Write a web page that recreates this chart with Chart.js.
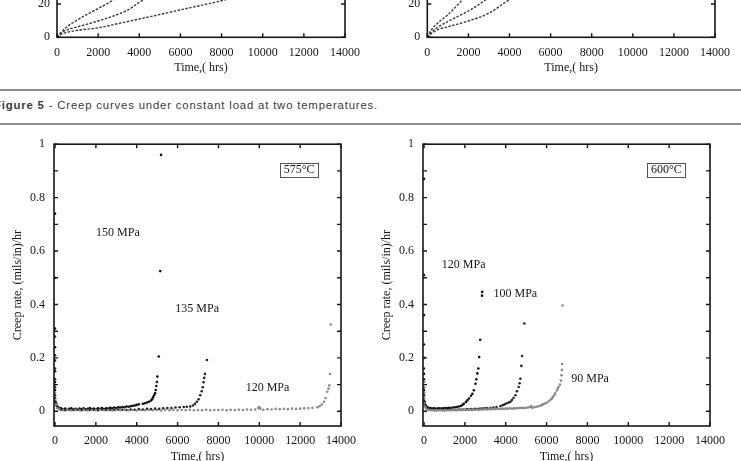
<!DOCTYPE html>
<html><head><meta charset="utf-8">
<script src="https://cdn.jsdelivr.net/npm/chart.js@4.4.1/dist/chart.umd.min.js"></script>
<style>
html,body{margin:0;padding:0;background:#fff;width:741px;height:461px;overflow:hidden;position:relative}
canvas{position:absolute}
.rule{position:absolute;left:0;width:741px;height:2px;background:#8e8e8e}
#cap{position:absolute;left:-6px;top:99px;font:11px 'Liberation Sans',Arial,sans-serif;color:#3a3a3a;white-space:nowrap;transform-origin:0 0;letter-spacing:0.8px;display:inline-block}
</style></head><body>
<canvas id="cTL" width="370" height="193" style="left:0;top:-110px"></canvas>
<canvas id="cTR" width="371" height="193" style="left:370px;top:-110px"></canvas>
<div class="rule" style="top:89px"></div>
<span id="cap"><b>Figure 5</b> - Creep curves under constant load at two temperatures.</span>
<div class="rule" style="top:123px"></div>
<canvas id="cBL" width="370" height="344" style="left:0;top:128px"></canvas>
<canvas id="cBR" width="371" height="344" style="left:370px;top:128px"></canvas>
<script>
// ---- tick labels ----
const xTicks = [0,2000,4000,6000,8000,10000,12000,14000];
const rateTicks = [0,0.2,0.4,0.6,0.8,1];
const rateMinor = [0.1,0.3,0.5,0.7,0.9];
const strainTicks = [0,20,40,60,80];

// ---- top row: creep strain curves [time hrs, strain] ----
const strain575_150 = [[0,0],[200,3],[500,6.5],[1000,10.5],[1500,14],[2000,17.3],[2400,20],[3000,24.5],[4000,32],[4500,38],[5000,50]];
const strain575_135 = [[0,0],[200,2.5],[500,4.5],[1000,6.3],[2000,9.8],[3000,14],[3500,16.8],[4000,21],[5000,28],[6000,36],[7000,48],[7400,60]];
const strain575_120 = [[0,0],[200,1.8],[500,3],[1000,4.2],[2000,5.7],[3000,8.3],[4000,11],[5000,13.7],[6000,16.5],[7000,19.2],[8000,22],[10000,29],[12000,38],[13000,46],[13400,55]];
const strain600_120 = [[0,0],[200,4.5],[500,8.5],[1000,13.5],[1500,19.8],[1800,24],[2500,35],[2800,48]];
const strain600_100 = [[0,0],[200,3],[500,6],[1000,9.5],[2000,15.8],[2700,21.3],[3500,29],[4500,40],[4900,50]];
const strain600_90  = [[0,0],[200,2.2],[500,4.5],[1000,6.3],[2000,9.8],[3000,14.5],[3850,21.5],[5000,30],[6000,40],[6700,50]];

// ---- bottom row: creep rate [time hrs, (mils/in)/hr] ----
const rate575_150 = [[0,0.74],[0,0.50],[0,0.31],[0,0.24],[0,0.19],[0,0.15],[0,0.11],[0,0.08],[0,0.05],[30,0.035],[60,0.025],[100,0.018],[150,0.014],[200,0.012],[250,0.009],
[300,0.011],[400,0.007],[500,0.010],[600,0.006],[700,0.009],[800,0.011],[900,0.007],[1000,0.009],[1100,0.006],[1200,0.010],[1300,0.008],[1400,0.011],[1500,0.007],[1600,0.009],[1700,0.012],[1800,0.008],[1900,0.010],[2000,0.007],[2100,0.011],[2200,0.009],[2300,0.012],[2400,0.008],[2500,0.011],[2600,0.010],[2700,0.013],[2800,0.011],[2900,0.014],[3000,0.012],[3100,0.015],[3200,0.014],[3300,0.016],[3400,0.015],[3500,0.018],[3600,0.017],[3700,0.019],[3800,0.021],[3900,0.022],[4000,0.024],[4100,0.026],
[4300,0.028],[4400,0.030],[4500,0.033],[4600,0.036],[4700,0.040],[4750,0.045],[4800,0.052],[4850,0.060],[4900,0.068],[4930,0.080],[4960,0.095],[4990,0.110],[5010,0.130],[5080,0.205],[5150,0.525],[5190,0.960]];
const rate575_135 = [[0,0.28],[0,0.21],[0,0.16],[0,0.12],[0,0.09],[0,0.06],[0,0.04],[50,0.03],[100,0.02],[150,0.015],[200,0.011],
[300,0.006],[500,0.004],[700,0.007],[900,0.005],[1100,0.006],[1300,0.004],[1500,0.007],[1700,0.005],[1900,0.006],[2100,0.004],[2300,0.007],[2500,0.005],[2700,0.006],[2900,0.005],[3100,0.007],[3300,0.006],[3500,0.005],[3700,0.007],[3900,0.006],[4100,0.008],[4300,0.007],[4500,0.009],[4700,0.008],[4900,0.010],[5100,0.009],[5300,0.011],[5500,0.012],[5700,0.012],[5900,0.014],[6100,0.015],[6300,0.016],[6450,0.017],
[6617,0.018],[6750,0.022],[6850,0.028],[6946,0.036],[7030,0.045],[7108,0.060],[7180,0.075],[7230,0.090],[7270,0.109],[7300,0.125],[7340,0.140],[7437,0.192]];
const rate575_120 = [[0,0.10],[0,0.07],[0,0.045],[50,0.025],[100,0.012],[200,0.008],
[400,0.004],[600,0.006],[800,0.003],[1000,0.005],[1200,0.004],[1400,0.006],[1600,0.003],[1800,0.005],[2000,0.004],[2200,0.006],[2400,0.004],[2600,0.005],[2800,0.003],[3000,0.005],[3200,0.004],[3400,0.006],[3600,0.004],[3800,0.005],[4000,0.003],[4200,0.005],[4400,0.004],[4600,0.006],[4800,0.004],[5000,0.005],[5200,0.003],[5400,0.005],[5600,0.004],[5800,0.006],[6000,0.004],[6200,0.005],[6400,0.004],[6600,0.006],[6800,0.004],[7000,0.005],[7200,0.004],[7400,0.006],[7600,0.004],[7800,0.005],[8000,0.005],[8200,0.006],[8400,0.004],[8600,0.006],[8800,0.005],[9000,0.006],[9200,0.005],[9400,0.007],[9600,0.006],[9800,0.007],[9950,0.012],[10000,0.016],[10050,0.010],[10200,0.006],[10400,0.008],[10600,0.007],[10800,0.009],[11000,0.008],[11200,0.009],[11400,0.008],[11600,0.010],[11800,0.009],[12000,0.010],[12200,0.011],[12400,0.012],[12600,0.013],
[12840,0.015],[12950,0.019],[13050,0.025],[13165,0.036],[13250,0.050],[13330,0.073],[13390,0.085],[13430,0.097],[13460,0.140],[13500,0.325]];
const rate600_120 = [[0,0.87],[0,0.51],[0,0.36],[0,0.25],[0,0.14],[0,0.11],[0,0.09],[0,0.07],[0,0.05],[30,0.035],[60,0.025],[100,0.02],[150,0.016],[200,0.013],[250,0.011],[300,0.012],[350,0.009],[400,0.010],[450,0.008],[500,0.011],[550,0.009],[600,0.008],[650,0.010],[700,0.009],[750,0.011],[800,0.008],[850,0.010],[900,0.009],[950,0.011],[1000,0.010],[1050,0.012],[1100,0.010],[1150,0.011],[1200,0.013],[1250,0.011],[1300,0.012],[1400,0.014],[1500,0.015],[1600,0.016],[1700,0.018],[1800,0.020],
[1880,0.024],[1950,0.028],[2050,0.035],[2120,0.041],[2200,0.048],[2300,0.058],[2370,0.066],[2440,0.079],[2520,0.103],[2560,0.120],[2610,0.142],[2660,0.160],[2700,0.203],[2750,0.268],[2840,0.433],[2850,0.447]];
const rate600_100 = [[0,0.20],[0,0.16],[0,0.12],[0,0.08],[0,0.06],[0,0.04],[50,0.025],[100,0.015],[200,0.010],[300,0.007],[400,0.005],[500,0.007],[600,0.004],[700,0.006],[800,0.005],[900,0.007],[1000,0.004],[1100,0.006],[1200,0.005],[1300,0.007],[1400,0.005],[1500,0.006],[1600,0.005],[1700,0.007],[1800,0.006],[1900,0.007],[2000,0.006],[2100,0.008],[2200,0.007],[2300,0.008],[2400,0.007],[2500,0.009],[2600,0.008],[2700,0.009],[2800,0.010],[2900,0.010],[3000,0.011],[3100,0.011],
[3254,0.012],[3400,0.014],[3550,0.016],[3741,0.020],[3850,0.023],[3950,0.026],[4050,0.030],[4150,0.033],[4229,0.036],[4300,0.042],[4380,0.050],[4473,0.060],[4550,0.075],[4636,0.091],[4680,0.105],[4717,0.122],[4766,0.170],[4800,0.207],[4912,0.329]];
const rate600_90 = [[0,0.11],[0,0.09],[0,0.07],[0,0.05],[0,0.03],[50,0.018],[100,0.010],[200,0.006],[300,0.004],[400,0.005],[500,0.003],[600,0.005],[700,0.004],[800,0.005],[900,0.003],[1000,0.005],[1100,0.004],[1200,0.005],[1300,0.004],[1400,0.006],[1500,0.004],[1600,0.005],[1700,0.005],[1800,0.006],[1900,0.005],[2000,0.006],[2100,0.005],[2200,0.006],[2300,0.006],[2400,0.007],[2500,0.006],[2600,0.007],[2700,0.006],[2800,0.007],[2900,0.007],[3000,0.008],[3100,0.007],[3200,0.008],[3300,0.008],[3400,0.009],[3500,0.008],[3600,0.009],[3700,0.009],[3800,0.010],[3900,0.009],[4000,0.010],[4100,0.010],[4200,0.011],[4300,0.010],[4400,0.011],[4500,0.011],[4600,0.012],[4700,0.012],[4800,0.013],[4900,0.012],[5000,0.013],[5100,0.014],[5200,0.016],[5250,0.020],[5300,0.013],[5400,0.015],[5500,0.017],[5600,0.019],[5700,0.021],
[5776,0.024],[5850,0.027],[5920,0.029],[6000,0.032],[6090,0.037],[6180,0.042],[6250,0.047],[6300,0.053],[6370,0.060],[6424,0.067],[6500,0.078],[6545,0.085],[6585,0.091],[6650,0.100],[6703,0.115],[6730,0.135],[6751,0.155],[6760,0.177],[6780,0.396]];

const SERIF = '"Liberation Serif","Times New Roman",serif';
const INK = '#161616';

// inward ticks on all four sides + box frame, drawn from the chart's scales
const framePlugin = {
  id: 'frame',
  afterDatasetsDraw(chart, args, o) {
    const {ctx, chartArea: a, scales: {x, y}} = chart;
    const L = 4;
    ctx.save();
    ctx.strokeStyle = INK; ctx.lineWidth = 1.4;
    ctx.beginPath();
    x.ticks.forEach(t => {
      const px = x.getPixelForValue(t.value);
      ctx.moveTo(px, a.bottom); ctx.lineTo(px, a.bottom - L);
      ctx.moveTo(px, a.top); ctx.lineTo(px, a.top + L);
    });
    const yv = y.ticks.map(t => t.value).concat(o.minor || []);
    yv.forEach(v => {
      const py = y.getPixelForValue(v);
      ctx.moveTo(a.left, py); ctx.lineTo(a.left + L, py);
      ctx.moveTo(a.right, py); ctx.lineTo(a.right - L, py);
    });
    ctx.stroke();
    ctx.lineWidth = 1.6;
    ctx.strokeRect(a.left, a.top, a.right - a.left, a.bottom - a.top);
    ctx.restore();
  }
};
const notePlugin = {
  id: 'notes',
  afterDatasetsDraw(chart, args, o) {
    const {ctx, scales: {x, y}} = chart;
    ctx.save();
    ctx.font = '12px ' + SERIF; ctx.fillStyle = INK;
    ctx.textAlign = 'center'; ctx.textBaseline = 'middle';
    (o.items || []).forEach(n => {
      const px = x.getPixelForValue(n.x), py = y.getPixelForValue(n.y);
      ctx.fillText(n.text, px, py);
      if (n.box) {
        const w = ctx.measureText(n.text).width + 7;
        ctx.strokeStyle = '#555'; ctx.lineWidth = 1;
        ctx.strokeRect(Math.round(px - w / 2) + 0.5, Math.round(py - 7) + 0.5, Math.round(w), 14);
      }
    });
    ctx.restore();
  }
};

const pts = arr => arr.map(p => ({x: p[0], y: p[1]}));

function axisFont() { return {family: SERIF, size: 12}; }

function rateChart(id, g, sets, notes) {
  return new Chart(document.getElementById(id), {
    type: 'scatter',
    data: {datasets: sets.map(s => ({data: pts(s.d), pointRadius: 1.3, pointBorderWidth: 0, pointBackgroundColor: s.c, showLine: false}))},
    options: {
      responsive: false, animation: false, events: [],
      layout: {padding: {left: 0, top: g.top, right: g.right, bottom: 0}},
      plugins: {legend: {display: false}, tooltip: {enabled: false}, frame: {minor: rateMinor}, notes: {items: notes}},
      scales: {
        x: {type: 'linear', min: -50, max: 14000,
          afterBuildTicks: s => { s.ticks = xTicks.map(v => ({value: v})); },
          afterFit: s => { s.height = g.xh; },
          grid: {display: false, drawTicks: false}, border: {display: false},
          ticks: {padding: 8, color: INK, font: axisFont(), autoSkip: false, maxRotation: 0, callback: v => String(v)},
          title: {display: true, text: 'Time,( hrs)', color: INK, font: axisFont(), padding: {top: 0, bottom: 7.8}}},
        y: {type: 'linear', min: -0.055, max: 1,
          afterBuildTicks: s => { s.ticks = rateTicks.map(v => ({value: v})); },
          afterFit: s => { s.width = g.yw; },
          grid: {display: false, drawTicks: false}, border: {display: false},
          ticks: {padding: 9, color: INK, font: axisFont(), callback: v => String(v)},
          title: {display: true, text: 'Creep rate, (mils/in)/hr', color: INK, font: axisFont(), padding: {top: g.tt, bottom: 0}}}
      }
    },
    plugins: [framePlugin, notePlugin]
  });
}

function strainChart(id, g, sets) {
  return new Chart(document.getElementById(id), {
    type: 'scatter',
    data: {datasets: sets.map(s => ({data: pts(s), showLine: true, pointRadius: 0, borderColor: '#3a3a3a', borderWidth: 1.4, borderDash: [2.5, 1.5], cubicInterpolationMode: 'monotone', fill: false}))},
    options: {
      responsive: false, animation: false, events: [],
      layout: {padding: {left: 0, top: g.top, right: g.right, bottom: 0}},
      plugins: {legend: {display: false}, tooltip: {enabled: false}, frame: {minor: []}},
      scales: {
        x: {type: 'linear', min: 0, max: 14000,
          afterBuildTicks: s => { s.ticks = xTicks.map(v => ({value: v})); },
          afterFit: s => { s.height = g.xh; },
          grid: {display: false, drawTicks: false}, border: {display: false},
          ticks: {padding: 8, color: INK, font: axisFont(), autoSkip: false, maxRotation: 0, callback: v => String(v)},
          title: {display: true, text: 'Time,( hrs)', color: INK, font: axisFont(), padding: {top: 0, bottom: 7.8}}},
        y: {type: 'linear', min: 0, max: 80,
          afterBuildTicks: s => { s.ticks = strainTicks.map(v => ({value: v})); },
          afterFit: s => { s.width = g.yw; },
          grid: {display: false, drawTicks: false}, border: {display: false},
          ticks: {padding: 7, color: INK, font: axisFont(), callback: v => String(v)}}
      }
    },
    plugins: [framePlugin]
  });
}

strainChart('cTL', {top: 8.9, right: 25, xh: 45.7, yw: 57}, [strain575_150, strain575_135, strain575_120]);
strainChart('cTR', {top: 8.9, right: 26, xh: 45.7, yw: 57.3}, [strain600_120, strain600_100, strain600_90]);

rateChart('cBL', {top: 10.5, right: 29, xh: 46, yw: 54, tt: 10.8},
  [{d: rate575_120, c: '#8a8a8a'}, {d: rate575_135, c: '#262626'}, {d: rate575_150, c: '#111'}],
  [{text: '575°C', x: 11950, y: 0.903, box: true},
   {text: '150 MPa', x: 3080, y: 0.668},
   {text: '135 MPa', x: 6960, y: 0.383},
   {text: '120 MPa', x: 10400, y: 0.086}]);
rateChart('cBR', {top: 10.5, right: 31, xh: 46, yw: 53, tt: 9.8},
  [{d: rate600_90, c: '#8a8a8a'}, {d: rate600_100, c: '#262626'}, {d: rate600_120, c: '#111'}],
  [{text: '600°C', x: 11860, y: 0.903, box: true},
   {text: '120 MPa', x: 1940, y: 0.548},
   {text: '100 MPa', x: 4470, y: 0.438},
   {text: '90 MPa', x: 8130, y: 0.123}]);

// fit caption to the printed width
const cap = document.getElementById('cap');
const cw = cap.getBoundingClientRect().width;
cap.style.transform = 'scaleX(' + (384 / cw) + ')';
</script>
</body></html>
